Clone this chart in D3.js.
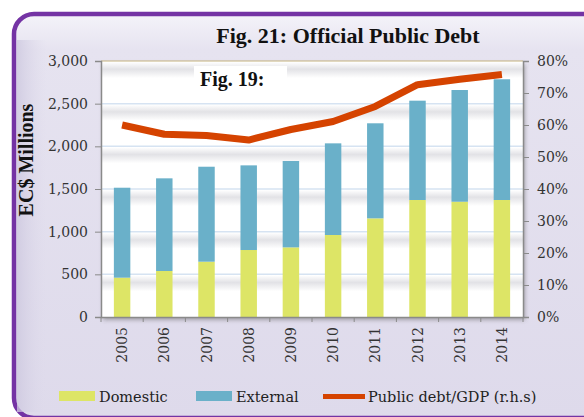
<!DOCTYPE html>
<html>
<head>
<meta charset="utf-8">
<script src="https://cdn.jsdelivr.net/npm/d3@7"></script>
<style>
  html, body { margin: 0; padding: 0; background: #ffffff; }
  svg { display: block; }
</style>
</head>
<body>
<svg id="chart" width="584" height="417"></svg>
<script>
// ---- data ----
const years = ["2005","2006","2007","2008","2009","2010","2011","2012","2013","2014"];
const domestic = [461, 539, 648, 785, 816, 961, 1156, 1371, 1351, 1371];
const external = [1054, 1086, 1113, 992, 1012, 1074, 1114, 1164, 1309, 1415];
const debtToGDP = [0.600, 0.571, 0.567, 0.553, 0.586, 0.611, 0.658, 0.726, 0.743, 0.758];
const leftTicks = [0, 500, 1000, 1500, 2000, 2500, 3000];
const rightTicks = [0, 0.1, 0.2, 0.3, 0.4, 0.5, 0.6, 0.7, 0.8];
const seriesNames = ["Domestic", "External", "Public debt/GDP (r.h.s)"];
const titleText = "Fig. 21: Official Public Debt";
const overlayText = "Fig. 19:";
const yLabel = "EC$ Millions";

// ---- style ----
const C = { dom: "#dde566", ext: "#6ab0c9", line: "#d54300", frame: "#7433a4" };
const serif = "'DejaVu Serif', serif";
const bold = "'Liberation Serif', 'Times New Roman', serif";

const svg = d3.select("#chart");
const W = 584, H = 417;
const P = { l: 101, r: 523, t: 61, b: 317 };

const defs = svg.append("defs");
const fg = defs.append("linearGradient").attr("id", "frameGrad").attr("x1", 0).attr("y1", 0).attr("x2", 0).attr("y2", 1);
fg.append("stop").attr("offset", "0%").attr("stop-color", "#f4f3f9");
fg.append("stop").attr("offset", "9%").attr("stop-color", "#e6e3f0");
fg.append("stop").attr("offset", "100%").attr("stop-color", "#dedaeb");
const lg = defs.append("linearGradient").attr("id", "leftGrad").attr("x1", 0).attr("y1", 0).attr("x2", 1).attr("y2", 0);
lg.append("stop").attr("offset", "0%").attr("stop-color", "#cdc8df").attr("stop-opacity", 0.8);
lg.append("stop").attr("offset", "100%").attr("stop-color", "#dedaeb").attr("stop-opacity", 0);
const bg = defs.append("linearGradient").attr("id", "bandGrad").attr("x1", 0).attr("y1", 0).attr("x2", 0).attr("y2", 1);
bg.append("stop").attr("offset", "0%").attr("stop-color", "#e2e2e6").attr("stop-opacity", 0);
bg.append("stop").attr("offset", "45%").attr("stop-color", "#e2e2e6").attr("stop-opacity", 1);
bg.append("stop").attr("offset", "100%").attr("stop-color", "#e2e2e6").attr("stop-opacity", 0);
const sh = defs.append("filter").attr("id", "shadow").attr("x", "-5%").attr("y", "-5%").attr("width", "115%").attr("height", "115%");
sh.append("feDropShadow").attr("dx", 2).attr("dy", 3).attr("stdDeviation", 2).attr("flood-color", "#555").attr("flood-opacity", 0.45);

// frame
svg.append("rect").attr("x", 14).attr("y", 14).attr("width", 610).attr("height", 404).attr("rx", 20)
  .attr("fill", "url(#frameGrad)").attr("stroke", C.frame).attr("stroke-width", 4.5);
svg.append("rect").attr("x", 17).attr("y", 40).attr("width", 30).attr("height", 372)
  .attr("fill", "url(#leftGrad)");

// scales
const x = d3.scaleBand().domain(years).range([P.l, P.r]).paddingInner(0.61).paddingOuter(0.305);
const yL = d3.scaleLinear().domain([0, 3000]).range([P.b, P.t]);
const yR = d3.scaleLinear().domain([0, 0.8]).range([P.b, P.t]);

// plot background with shadow
svg.append("rect").attr("x", P.l).attr("y", P.t).attr("width", P.r - P.l).attr("height", P.b - P.t)
  .attr("fill", "#ffffff").attr("filter", "url(#shadow)");

// gridline soft bands + lines
const gridG = svg.append("g");
gridG.selectAll("rect.band").data(leftTicks.filter(d => d > 0)).join("rect")
  .attr("x", P.l).attr("width", P.r - P.l)
  .attr("y", d => yL(d) + 1).attr("height", 16).attr("fill", "url(#bandGrad)");
gridG.selectAll("line.grid").data(leftTicks.filter(d => d > 0 && d < 3000)).join("line")
  .attr("x1", P.l).attr("x2", P.r).attr("y1", d => yL(d)).attr("y2", d => yL(d))
  .attr("stroke", "#d6e3f2").attr("stroke-width", 1.5);
// top border (tan)
svg.append("line").attr("x1", P.l).attr("x2", P.r).attr("y1", P.t).attr("y2", P.t)
  .attr("stroke", "#c4b27e").attr("stroke-width", 1.2);

// bars
const stackData = years.map((y, i) => ({ year: y, dom: domestic[i], ext: external[i] }));
const barG = svg.append("g");
barG.selectAll("rect.dom").data(stackData).join("rect")
  .attr("x", d => x(d.year)).attr("width", x.bandwidth())
  .attr("y", d => yL(d.dom)).attr("height", d => yL(0) - yL(d.dom)).attr("fill", C.dom);
barG.selectAll("rect.ext").data(stackData).join("rect")
  .attr("x", d => x(d.year)).attr("width", x.bandwidth())
  .attr("y", d => yL(d.dom + d.ext)).attr("height", d => yL(d.dom) - yL(d.dom + d.ext)).attr("fill", C.ext);

// overlay "Fig. 19:" box
svg.append("rect").attr("x", 194).attr("y", 66).attr("width", 93).attr("height", 28).attr("fill", "#ffffff");
svg.append("text").attr("x", 200).attr("y", 86).attr("font-family", bold).attr("font-weight", "bold")
  .attr("font-size", 20).attr("fill", "#111").text(overlayText);

// line
const lineGen = d3.line().x((d, i) => x(years[i]) + x.bandwidth() / 2).y(d => yR(d));
svg.append("path").datum(debtToGDP).attr("d", lineGen).attr("fill", "none")
  .attr("stroke", C.line).attr("stroke-width", 7).attr("stroke-linejoin", "round");

// axes
const axisColor = "#8a8a8a";
const leftAxis = svg.append("g").attr("transform", `translate(${P.l},0)`)
  .call(d3.axisLeft(yL).tickValues(leftTicks).tickSize(6).tickPadding(7).tickFormat(d3.format(",")));
const rightAxis = svg.append("g").attr("transform", `translate(${P.r},0)`)
  .call(d3.axisRight(yR).tickValues(rightTicks).tickSize(6).tickPadding(8).tickFormat(d3.format(".0%")));
const bottomAxis = svg.append("g").attr("transform", `translate(0,${P.b})`)
  .call(d3.axisBottom(x).tickSize(0).tickFormat(""));
[leftAxis, rightAxis, bottomAxis].forEach(g => {
  g.select(".domain").attr("stroke", axisColor).attr("stroke-width", 1.5);
  g.selectAll(".tick line").attr("stroke", axisColor);
  g.selectAll("text").attr("font-family", serif).attr("font-size", 14).attr("fill", "#333");
});
// x ticks at band boundaries
const bounds = years.map(y => x(y) - x.step() * x.paddingInner() / 2).concat([P.r]);
svg.append("g").selectAll("line").data(bounds).join("line")
  .attr("x1", d => d).attr("x2", d => d).attr("y1", P.b).attr("y2", P.b + 5)
  .attr("stroke", axisColor).attr("stroke-width", 1);
// year labels rotated
svg.append("g").selectAll("text").data(years).join("text")
  .attr("transform", d => `translate(${x(d) + x.bandwidth() / 2},327) rotate(-90)`)
  .attr("text-anchor", "end").attr("dy", "0.36em")
  .attr("font-family", serif).attr("font-size", 14).attr("fill", "#333").text(d => d);

// title
svg.append("text").attr("x", 348).attr("y", 43).attr("text-anchor", "middle")
  .attr("font-family", bold).attr("font-weight", "bold").attr("font-size", 22).attr("fill", "#111")
  .text(titleText);

// y label
svg.append("text").attr("transform", "translate(33,160) rotate(-90)").attr("text-anchor", "middle")
  .attr("font-family", bold).attr("font-weight", "bold").attr("font-size", 20).attr("fill", "#111")
  .text(yLabel);

// legend
const leg = svg.append("g").attr("font-family", serif).attr("font-size", 14.5).attr("fill", "#222");
leg.append("rect").attr("x", 59).attr("y", 391).attr("width", 36).attr("height", 10).attr("fill", C.dom);
leg.append("text").attr("x", 99).attr("y", 402).text(seriesNames[0]);
leg.append("rect").attr("x", 196).attr("y", 391).attr("width", 36).attr("height", 10).attr("fill", C.ext);
leg.append("text").attr("x", 236).attr("y", 402).text(seriesNames[1]);
leg.append("line").attr("x1", 323).attr("x2", 365).attr("y1", 396.5).attr("y2", 396.5)
  .attr("stroke", C.line).attr("stroke-width", 5);
leg.append("text").attr("x", 368).attr("y", 402).text(seriesNames[2]);
</script>
</body>
</html>
